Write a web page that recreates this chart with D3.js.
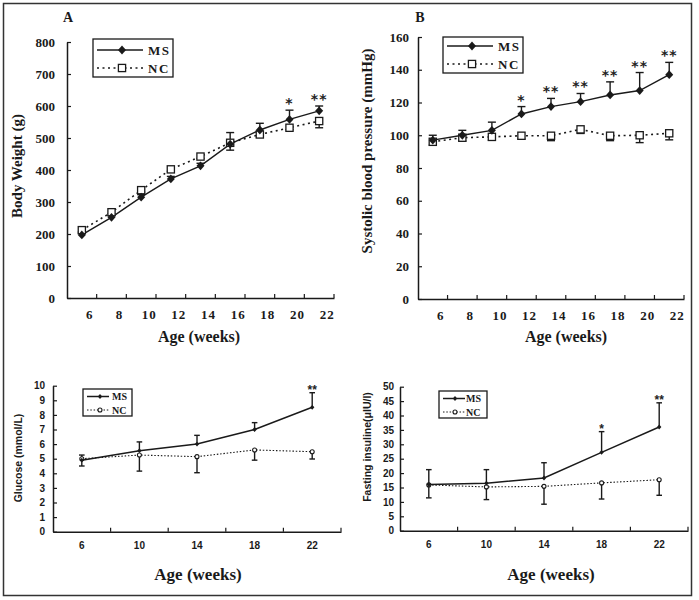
<!DOCTYPE html>
<html><head><meta charset="utf-8">
<script src="https://cdn.jsdelivr.net/npm/d3@7"></script>
<style>html,body{margin:0;padding:0;background:#fff;} text{-webkit-font-smoothing:antialiased;}</style>
</head><body>
<svg id="chart" width="699" height="600"></svg>
<script>
// ---------- DATA ----------
const agesAB = [6, 8, 10, 12, 14, 16, 18, 20, 22];
const bodyWeightMS    = [197, 252, 315, 372, 413, 481, 525, 558, 585];
const bodyWeightMSErr = [6, 6, 8, 8, 8, 36, 21, 29, 15];
const bodyWeightNC    = [212, 268, 337, 402, 442, 485, 511, 532, 553];
const bodyWeightNCErr = [5, 5, 6, 6, 6, 23, 8, 6, 21];
const bodyWeightSig   = ["", "", "", "", "", "", "", "*", "**"];
const bodyWeightTicks = [0, 100, 200, 300, 400, 500, 600, 700, 800];

const sbpMS    = [97, 100, 103, 113, 117.5, 120.5, 124.6, 127.3, 137];
const sbpMSErr = [3, 3, 5, 4.5, 5, 5, 8, 11, 7.5];
const sbpNC    = [96, 98.5, 99, 99.7, 99.7, 103.6, 99.7, 100, 101.2];
const sbpNCErr = [2, 2, 2, 2, 3, 2.5, 3, 4.5, 4];
const sbpSig   = ["", "", "", "*", "**", "**", "**", "**", "**"];
const sbpTicks = [0, 20, 40, 60, 80, 100, 120, 140, 160];

const agesCD = [6, 10, 14, 18, 22];
const glucoseMS    = [4.9, 5.55, 6.0, 7.0, 8.52];
const glucoseMSErr = [0.35, 0.6, 0.6, 0.47, 1.0];
const glucoseNC    = [5.0, 5.25, 5.14, 5.6, 5.48];
const glucoseNCErr = [0.5, 1.1, 1.1, 0.7, 0.5];
const glucoseSig   = ["", "", "", "", "**"];
const glucoseTicks = [0, 1, 2, 3, 4, 5, 6, 7, 8, 9, 10];

const insulinMS    = [16, 16.5, 18.3, 27.2, 36];
const insulinMSErr = [5.2, 4.7, 5.3, 7.2, 8.4];
const insulinNC    = [15.9, 15.2, 15.4, 16.6, 17.7];
const insulinNCErr = [4.5, 4.4, 6.2, 5.6, 5.4];
const insulinSig   = ["", "", "", "*", "**"];
const insulinTicks = [0, 5, 10, 15, 20, 25, 30, 35, 40, 45, 50];

const seriesNames = ["MS", "NC"];

// ---------- DRAW ----------
const svg = d3.select("#chart");
const INK = "#1a1a1a";
svg.append("rect").attr("x", 3.5).attr("y", 3.5).attr("width", 688).attr("height", 592)
  .attr("fill", "none").attr("stroke", "#333").attr("stroke-width", 1.5);

function panel(c) {
  const g = svg.append("g");
  const big = c.style === "big";
  const tickFont = big ? "'Liberation Serif', serif" : "'Liberation Sans', Arial, sans-serif";
  const tickSize = big ? 13 : 10;

  const x = d3.scaleBand().domain(c.ages).range([c.x0, c.x1]).padding(0);
  const cx = a => x(a) + x.bandwidth() / 2;
  const y = d3.scaleLinear().domain([0, c.yMax]).range([c.yBot, c.yTop]);

  // y axis
  const ya = g.append("g").attr("transform", `translate(${c.x0},0)`)
    .call(d3.axisLeft(y).tickValues(c.yTicks).tickSizeInner(-4).tickSizeOuter(0).tickPadding(c.yPad));
  ya.select(".domain").attr("stroke", INK).attr("stroke-width", 1.5);
  ya.selectAll(".tick line").attr("stroke", INK).attr("stroke-width", 1.2);
  ya.selectAll("text").attr("font-family", tickFont).attr("font-weight", "bold")
    .attr("font-size", tickSize).attr("fill", INK);

  // x axis (labels)
  const xa = g.append("g").attr("transform", `translate(0,${c.yBot})`)
    .call(d3.axisBottom(x).tickSize(0).tickPadding(c.xPad));
  xa.select(".domain").attr("stroke", INK).attr("stroke-width", 1.5);
  xa.selectAll("text").attr("font-family", tickFont).attr("font-weight", "bold")
    .attr("font-size", tickSize).attr("fill", INK).attr("dx", c.xLabelShift)
    .style("letter-spacing", big ? "1px" : "0px");
  // x tick marks at band boundaries (inside)
  g.selectAll(".xt").data(c.ages).enter().append("line")
    .attr("x1", a => x(a) + x.bandwidth()).attr("x2", a => x(a) + x.bandwidth())
    .attr("y1", c.yBot).attr("y2", c.yBot - 4).attr("stroke", INK).attr("stroke-width", 1.2);

  const line = d3.line().x((d, i) => cx(c.ages[i])).y(d => y(d));
  // NC line (dotted)
  g.append("path").datum(c.nc).attr("d", line).attr("fill", "none")
    .attr("stroke", INK).attr("stroke-width", big ? 1.6 : 1.1)
    .attr("stroke-dasharray", big ? "2,3.5" : "1.5,1.8");
  // MS line
  g.append("path").datum(c.ms).attr("d", line).attr("fill", "none")
    .attr("stroke", INK).attr("stroke-width", big ? 1.4 : 1.5);

  const cap = big ? 4 : 2.8;
  // error bars MS (upper)
  c.ms.forEach((v, i) => {
    const xx = cx(c.ages[i]), top = y(v + c.msErr[i]);
    g.append("line").attr("x1", xx).attr("x2", xx).attr("y1", y(v)).attr("y2", top)
      .attr("stroke", INK).attr("stroke-width", 1.4);
    g.append("line").attr("x1", xx - cap).attr("x2", xx + cap).attr("y1", top).attr("y2", top)
      .attr("stroke", INK).attr("stroke-width", 1.4);
  });
  // error bars NC (lower)
  c.nc.forEach((v, i) => {
    const xx = cx(c.ages[i]), bot = y(v - c.ncErr[i]);
    g.append("line").attr("x1", xx).attr("x2", xx).attr("y1", y(v)).attr("y2", bot)
      .attr("stroke", INK).attr("stroke-width", 1.4);
    g.append("line").attr("x1", xx - cap).attr("x2", xx + cap).attr("y1", bot).attr("y2", bot)
      .attr("stroke", INK).attr("stroke-width", 1.4);
  });

  function diamond(gg, xx, yy, s) {
    gg.append("path").attr("d", `M${xx},${yy - s * 1.1}L${xx + s},${yy}L${xx},${yy + s * 1.1}L${xx - s},${yy}Z`)
      .attr("fill", INK);
  }
  function openMark(gg, xx, yy) {
    if (big) gg.append("rect").attr("x", xx - 3.6).attr("y", yy - 3.6).attr("width", 7.2).attr("height", 7.2)
      .attr("fill", "#fff").attr("stroke", INK).attr("stroke-width", 1.3);
    else gg.append("circle").attr("cx", xx).attr("cy", yy).attr("r", 2)
      .attr("fill", "#fff").attr("stroke", INK).attr("stroke-width", 1.1);
  }
  c.nc.forEach((v, i) => openMark(g, cx(c.ages[i]), y(v)));
  c.ms.forEach((v, i) => diamond(g, cx(c.ages[i]), y(v), big ? 4 : 2.2));

  // significance stars
  const starG = g.append("g").style("opacity", 0.995);
  c.ms.forEach((v, i) => {
    if (!c.sig[i]) return;
    const top = y(v + c.msErr[i]);
    starG.append("text").attr("x", cx(c.ages[i])).attr("y", big ? top - 2 : top + 1)
      .attr("text-anchor", "middle")
      .attr("font-family", big ? "'DejaVu Sans', sans-serif" : "'Liberation Sans', Arial, sans-serif")
      .attr("font-weight", "bold")
      .attr("font-size", big ? 14 : 12).attr("fill", "#222")
      .style("letter-spacing", big ? "1px" : "0px")
      .text(c.sig[i]);
  });

  // legend
  const L = c.legend;
  g.append("rect").attr("x", L.x).attr("y", L.y).attr("width", L.w).attr("height", L.h)
    .attr("fill", "#fff").attr("stroke", INK).attr("stroke-width", 1.3);
  seriesNames.forEach((name, k) => {
    const ry = L.y + L.row0 + k * L.rowGap;
    g.append("line").attr("x1", L.x + 4).attr("x2", L.x + L.lineW).attr("y1", ry).attr("y2", ry)
      .attr("stroke", INK).attr("stroke-width", k === 0 ? (big ? 1.4 : 1.5) : (big ? 1.6 : 1.1))
      .attr("stroke-dasharray", k === 0 ? null : (big ? "2,3.5" : "1.5,1.8"));
    if (k === 0) diamond(g, L.x + L.mark, ry, big ? 4 : 2.2);
    else openMark(g, L.x + L.mark, ry);
    g.append("text").attr("x", L.x + L.text).attr("y", ry).attr("dy", "0.35em")
      .attr("font-family", "'Liberation Serif', serif").attr("font-weight", "bold")
      .attr("font-size", big ? 13 : 10).style("letter-spacing", big ? "1.5px" : "0px")
      .attr("fill", INK).text(name);
  });

  // titles
  g.append("text").attr("transform", `translate(${c.yTitle.x},${c.yTitle.y}) rotate(-90)`)
    .attr("text-anchor", "middle").attr("dy", "0.35em")
    .attr("font-family", big ? "'Liberation Serif', serif" : "'Liberation Sans', Arial, sans-serif")
    .attr("font-weight", "bold").attr("font-size", c.yTitle.size).attr("fill", INK)
    .text(c.yTitle.text);
  g.append("text").attr("x", c.xTitle.x).attr("y", c.xTitle.y).attr("dy", "0.35em")
    .attr("text-anchor", "middle").attr("font-family", "'Liberation Serif', serif")
    .attr("font-weight", "bold").attr("font-size", c.xTitle.size).attr("fill", INK)
    .text("Age (weeks)");
  if (c.label) g.append("text").attr("x", c.label.x).attr("y", c.label.y).attr("dy", "0.35em")
    .attr("text-anchor", "middle").attr("font-family", "'Liberation Serif', serif")
    .attr("font-weight", "bold").attr("font-size", 14).attr("fill", INK).text(c.label.text);
}

panel({
  style: "big", ages: agesAB, ms: bodyWeightMS, msErr: bodyWeightMSErr, nc: bodyWeightNC, ncErr: bodyWeightNCErr,
  sig: bodyWeightSig, yMax: 800, yTicks: bodyWeightTicks,
  x0: 67, x1: 334, yTop: 42, yBot: 298, yPad: 12, xPad: 12, xLabelShift: 8,
  legend: { x: 93, y: 39, w: 80, h: 38, row0: 11, rowGap: 18, lineW: 50, mark: 29, text: 55 },
  yTitle: { x: 17, y: 166, text: "Body Weight (g)", size: 15 },
  xTitle: { x: 199, y: 336, size: 16 },
  label: { x: 68, y: 17, text: "A" }
});
panel({
  style: "big", ages: agesAB, ms: sbpMS, msErr: sbpMSErr, nc: sbpNC, ncErr: sbpNCErr,
  sig: sbpSig, yMax: 160, yTicks: sbpTicks,
  x0: 418, x1: 684, yTop: 37, yBot: 299, yPad: 9, xPad: 12, xLabelShift: 8,
  legend: { x: 443, y: 37, w: 80, h: 36, row0: 9, rowGap: 18, lineW: 50, mark: 29, text: 55 },
  yTitle: { x: 367, y: 151, text: "Systolic blood pressure (mmHg)", size: 15 },
  xTitle: { x: 566, y: 336, size: 16 },
  label: { x: 420, y: 17, text: "B" }
});
panel({
  style: "small", ages: agesCD, ms: glucoseMS, msErr: glucoseMSErr, nc: glucoseNC, ncErr: glucoseNCErr,
  sig: glucoseSig, yMax: 10, yTicks: glucoseTicks,
  x0: 53, x1: 341, yTop: 385.7, yBot: 531.7, yPad: 8, xPad: 10, xLabelShift: 0,
  legend: { x: 83, y: 389, w: 49, h: 27, row0: 7.5, rowGap: 13.5, lineW: 26, mark: 17, text: 29 },
  yTitle: { x: 18, y: 458, text: "Glucose (mmol/L)", size: 10.5 },
  xTitle: { x: 198, y: 574, size: 17 }
});
panel({
  style: "small", ages: agesCD, ms: insulinMS, msErr: insulinMSErr, nc: insulinNC, ncErr: insulinNCErr,
  sig: insulinSig, yMax: 50, yTicks: insulinTicks,
  x0: 400, x1: 688, yTop: 386.7, yBot: 530.7, yPad: 6, xPad: 10, xLabelShift: 0,
  legend: { x: 439, y: 391, w: 48, h: 27, row0: 7.5, rowGap: 13.5, lineW: 26, mark: 16, text: 27 },
  yTitle: { x: 367, y: 447, text: "Fasting insuline(\u03bcIU/l)", size: 10.5 },
  xTitle: { x: 551, y: 574, size: 17 }
});
</script>
</body></html>
